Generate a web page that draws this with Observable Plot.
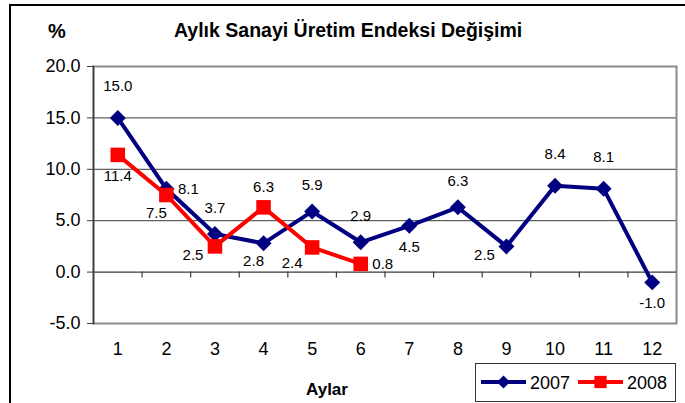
<!DOCTYPE html>
<html><head><meta charset="utf-8">
<script src="https://cdn.jsdelivr.net/npm/d3@7"></script>
<script src="https://cdn.jsdelivr.net/npm/@observablehq/plot@0.6"></script>
<style>
html,body{margin:0;padding:0;background:#fff;}
#wrap{position:relative;width:685px;height:403px;overflow:hidden;font-family:"Liberation Sans",Arial,Helvetica,sans-serif;}
#wrap > svg{position:absolute;left:0;top:0;}
#frame{position:absolute;left:9px;top:4px;width:700px;height:420px;border-top:2px solid #000;border-left:2px solid #000;}
#overlay{position:absolute;left:0;top:0;}
</style></head><body>
<div id="wrap"><div id="frame"></div></div>
<script>
// ---- data ----
const months = [1, 2, 3, 4, 5, 6, 7, 8, 9, 10, 11, 12];
const values2007 = [15.0, 8.1, 3.7, 2.8, 5.9, 2.9, 4.5, 6.3, 2.5, 8.4, 8.1, -1.0];
const values2008 = [11.4, 7.5, 2.5, 6.3, 2.4, 0.8];
const seriesNames = ["2007", "2008"];
const yTicks = [-5, 0, 5, 10, 15, 20];
const titleText = "Aylık Sanayi Üretim Endeksi Değişimi";
const unitText = "%";
const xTitleText = "Aylar";

// ---- label placement codes (styling) ----
const place2007 = ["T", "r", "t", "bl", "t", "t", "b", "t", "l", "T", "T", "b"];
const place2008 = ["b", "bl", "l", "u", "lb", "r"];
const offsets = {T: [0, -32], t: [0, -26], u: [0, -20], b: [0, 21], bl: [-10, 18], l: [-22, 9], lb: [-20, 16], r: [22, 0]};

const colors = {"2007": "#000080", "2008": "#ff0000"};
const font = '"Liberation Sans", Arial, Helvetica, sans-serif';

const d2007 = values2007.map((v, i) => ({month: months[i], value: v, series: seriesNames[0], pos: place2007[i]}));
const d2008 = values2008.map((v, i) => ({month: months[i], value: v, series: seriesNames[1], pos: place2008[i]}));
const allLabels = d2007.concat(d2008);
const boundaries = months.slice(0, -1).map(m => m + 0.5);
const gridVals = yTicks.slice(1, -1).filter(t => t !== 0);

const labelMarks = Object.keys(offsets).map(code =>
  Plot.text(allLabels.filter(d => d.pos === code), {
    x: "month", y: "value", text: d => d.value.toFixed(1),
    dx: offsets[code][0], dy: offsets[code][1],
    fontSize: 15, fill: "#000"
  })
);

const chart = Plot.plot({
  width: 685,
  height: 403,
  marginTop: 66,
  marginBottom: 80,
  marginLeft: 93,
  marginRight: 9,
  style: {fontFamily: font, background: "transparent", color: "#000"},
  x: {domain: [months[0] - 0.5, months[months.length - 1] + 0.5], axis: null, label: null},
  y: {domain: [yTicks[0], yTicks[yTicks.length - 1]], axis: null, label: null},
  marks: [
    Plot.ruleY(gridVals, {stroke: "#3a3a3a", strokeWidth: 1}),
    Plot.frame({stroke: "#8a8a8a", strokeWidth: 2}),
    Plot.ruleY([0], {stroke: "#3a3a3a", strokeWidth: 1.2}),
    Plot.ruleX(boundaries, {x: d => d, y1: 0, y2: 0, insetBottom: -6, stroke: "#3a3a3a", strokeWidth: 1.2}),
    Plot.frame({anchor: "left", stroke: "#3a3a3a", strokeWidth: 1.5}),
    Plot.axisY({ticks: yTicks, label: null, tickSize: 6, tickPadding: 7, tickFormat: d => d.toFixed(1), fontSize: 18, stroke: "#3a3a3a"}),
    Plot.axisX({ticks: months, label: null, tickSize: 0, tickPadding: 19, fontSize: 18, tickFormat: d => String(d)}),
    Plot.line(d2007, {x: "month", y: "value", stroke: colors["2007"], strokeWidth: 4}),
    Plot.dot(d2007, {x: "month", y: "value", symbol: "diamond2", fill: colors["2007"], stroke: "none", r: 7.2}),
    Plot.line(d2008, {x: "month", y: "value", stroke: colors["2008"], strokeWidth: 4}),
    Plot.dot(d2008, {x: "month", y: "value", symbol: "square", fill: colors["2008"], stroke: "none", r: 8.2}),
    ...labelMarks
  ]
});
document.getElementById("wrap").appendChild(chart);

// overlay: title, unit, x title, legend
const ov = d3.select("#wrap").append("svg").attr("id", "overlay").attr("width", 685).attr("height", 403)
  .style("font-family", font);
ov.append("text").attr("x", 174).attr("y", 37).attr("font-size", 19.5).attr("font-weight", "bold").text(titleText);
ov.append("text").attr("x", 57).attr("y", 38).attr("text-anchor", "middle").attr("font-size", 20).attr("font-weight", "bold").text(unitText);
ov.append("text").attr("x", 327).attr("y", 395).attr("text-anchor", "middle").attr("font-size", 17).attr("font-weight", "bold").text(xTitleText);

const lg = ov.append("g");
lg.append("rect").attr("x", 475.5).attr("y", 363.5).attr("width", 200).attr("height", 38).attr("fill", "#fff").attr("stroke", "#333").attr("stroke-width", 1);
const items = [
  {name: seriesNames[0], x0: 481, sym: d3.symbolDiamond2, size: 110},
  {name: seriesNames[1], x0: 578, sym: d3.symbolSquare, size: 150}
];
items.forEach(it => {
  const g = lg.append("g");
  g.append("line").attr("x1", it.x0).attr("x2", it.x0 + 45).attr("y1", 382).attr("y2", 382).attr("stroke", colors[it.name]).attr("stroke-width", 4);
  g.append("path").attr("d", d3.symbol(it.sym, it.size)()).attr("transform", `translate(${it.x0 + 22.5},382)`).attr("fill", colors[it.name]);
  g.append("text").attr("x", it.x0 + 49).attr("y", 388.5).attr("font-size", 18).text(it.name);
});
</script>
</body></html>
